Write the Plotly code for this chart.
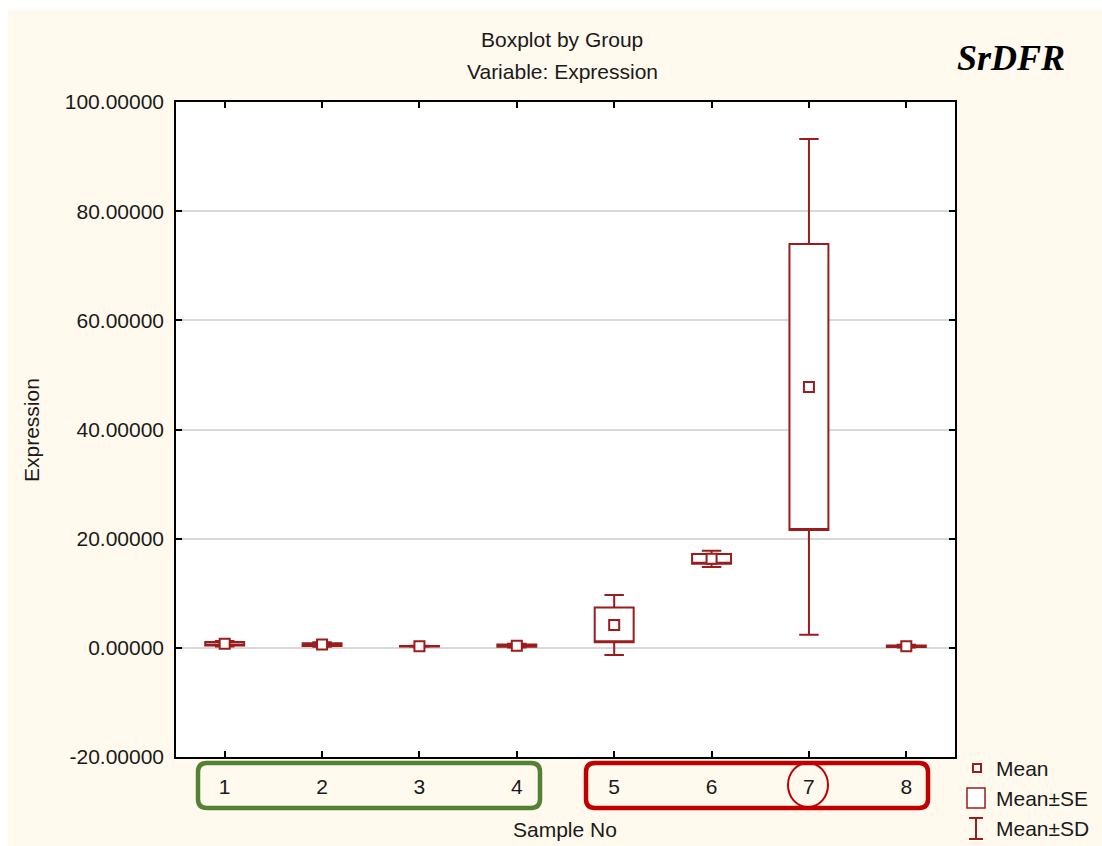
import plotly.graph_objects as go

# Expression per sample: mean, standard error and standard deviation
samples = [1, 2, 3, 4, 5, 6, 7, 8]
mean_vals = [0.75, 0.6, 0.3, 0.4, 4.2, 16.3, 47.8, 0.3]
se_vals = [0.3, 0.25, 0.05, 0.2, 3.2, 0.9, 26.2, 0.15]
sd_vals = [0.5, 0.4, 0.1, 0.35, 5.5, 1.5, 45.4, 0.25]

y_tick_vals = [-20, 0, 20, 40, 60, 80, 100]
y_tick_text = ["-20.00000", "0.00000", "20.00000", "40.00000",
               "60.00000", "80.00000", "100.00000"]
x_tick_text = ["1", "2", "3", "4", "5", "6", "7", "8"]

W, H = 1102, 846
PL, PR, PT, PB = 176, 955, 102, 757  # plot area in pixels

DARK_RED = "#9B1C1C"
CREAM = "#FFF9EE"
FONT = "Liberation Sans, Arial, sans-serif"


def px(xp):
    return (xp - PL) / (PR - PL)


def py(yp):
    return (PB - yp) / (PB - PT)


def rounded_rect(x0, y0, x1, y1, r):
    pts = [
        f"M {px(x0 + r)},{py(y0)}",
        f"L {px(x1 - r)},{py(y0)}",
        f"Q {px(x1)},{py(y0)} {px(x1)},{py(y0 + r)}",
        f"L {px(x1)},{py(y1 - r)}",
        f"Q {px(x1)},{py(y1)} {px(x1 - r)},{py(y1)}",
        f"L {px(x0 + r)},{py(y1)}",
        f"Q {px(x0)},{py(y1)} {px(x0)},{py(y1 - r)}",
        f"L {px(x0)},{py(y0 + r)}",
        f"Q {px(x0)},{py(y0)} {px(x0 + r)},{py(y0)}",
        "Z",
    ]
    return " ".join(pts)


q1 = [m - s for m, s in zip(mean_vals, se_vals)]
q3 = [m + s for m, s in zip(mean_vals, se_vals)]
lo = [m - s for m, s in zip(mean_vals, sd_vals)]
hi = [m + s for m, s in zip(mean_vals, sd_vals)]

fig = go.Figure()

# Mean±SE box with Mean±SD whiskers
fig.add_trace(go.Box(
    x=samples, q1=q1, median=q1, q3=q3, lowerfence=lo, upperfence=hi,
    width=0.4, whiskerwidth=0.5, boxpoints=False,
    fillcolor="white", line=dict(color=DARK_RED, width=2),
    showlegend=False, hoverinfo="skip",
))

# Mean markers
fig.add_trace(go.Scatter(
    x=samples, y=mean_vals, mode="markers",
    marker=dict(symbol="square", size=10, color="white",
                line=dict(color=DARK_RED, width=2)),
    showlegend=False, hoverinfo="skip",
))

shapes = []
# white strips at the top and left edge of the page
shapes.append(dict(type="rect", xref="paper", yref="paper",
                   x0=px(0), x1=px(W), y0=py(10), y1=py(0),
                   fillcolor="white", line=dict(width=0), layer="below"))
shapes.append(dict(type="rect", xref="paper", yref="paper",
                   x0=px(0), x1=px(8), y0=py(H), y1=py(0),
                   fillcolor="white", line=dict(width=0), layer="below"))

# group frames around the sample labels
shapes.append(dict(type="path", xref="paper", yref="paper",
                   path=rounded_rect(198, 763, 540, 808, 9),
                   line=dict(color="#548235", width=4.5)))
shapes.append(dict(type="path", xref="paper", yref="paper",
                   path=rounded_rect(586, 763, 928, 808, 9),
                   line=dict(color="#C00000", width=4.5)))
shapes.append(dict(type="circle", xref="paper", yref="paper",
                   x0=px(788), x1=px(828), y0=py(807), y1=py(763),
                   line=dict(color="#C00000", width=2)))

# legend glyphs
shapes.append(dict(type="rect", xref="paper", yref="paper",
                   x0=px(973), x1=px(981), y0=py(772), y1=py(764),
                   line=dict(color=DARK_RED, width=2), fillcolor="white"))
shapes.append(dict(type="rect", xref="paper", yref="paper",
                   x0=px(967), x1=px(985), y0=py(808), y1=py(788),
                   line=dict(color=DARK_RED, width=1.5), fillcolor="white"))
shapes.append(dict(type="line", xref="paper", yref="paper",
                   x0=px(976), x1=px(976), y0=py(839), y1=py(818),
                   line=dict(color=DARK_RED, width=2)))
shapes.append(dict(type="line", xref="paper", yref="paper",
                   x0=px(969), x1=px(983), y0=py(818), y1=py(818),
                   line=dict(color=DARK_RED, width=2)))
shapes.append(dict(type="line", xref="paper", yref="paper",
                   x0=px(969), x1=px(983), y0=py(839), y1=py(839),
                   line=dict(color=DARK_RED, width=2)))

font = dict(family=FONT, size=21, color="#1a1a1a")
annotations = [
    dict(text="Boxplot by Group", x=px(562), y=py(40), xref="paper", yref="paper",
         showarrow=False, font=font, xanchor="center", yanchor="middle"),
    dict(text="Variable: Expression", x=px(562), y=py(72), xref="paper", yref="paper",
         showarrow=False, font=font, xanchor="center", yanchor="middle"),
    dict(text="<b><i>SrDFR</i></b>", x=px(1011), y=py(58), xref="paper", yref="paper",
         showarrow=False, xanchor="center", yanchor="middle",
         font=dict(family="Liberation Serif, Times New Roman, serif", size=36, color="black")),
    dict(text="Expression", x=px(31), y=py(430), xref="paper", yref="paper",
         showarrow=False, textangle=-90, font=font, xanchor="center", yanchor="middle"),
    dict(text="Sample No", x=px(565), y=py(829), xref="paper", yref="paper",
         showarrow=False, font=font, xanchor="center", yanchor="middle"),
    dict(text="Mean", x=px(994), y=py(768), xref="paper", yref="paper",
         showarrow=False, font=font, xanchor="left", yanchor="middle"),
    dict(text="Mean±SE", x=px(994), y=py(798), xref="paper", yref="paper",
         showarrow=False, font=font, xanchor="left", yanchor="middle"),
    dict(text="Mean±SD", x=px(994), y=py(828), xref="paper", yref="paper",
         showarrow=False, font=font, xanchor="left", yanchor="middle"),
]

fig.update_layout(
    width=W, height=H,
    margin=dict(l=PL, r=W - PR, t=PT, b=H - PB, pad=0),
    paper_bgcolor=CREAM, plot_bgcolor="white",
    font=font,
    shapes=shapes, annotations=annotations,
    xaxis=dict(range=[0.5, 8.5], tickvals=samples, ticktext=x_tick_text,
               ticks="inside", ticklen=6, tickcolor="black", tickwidth=1.5,
               showline=True, linecolor="black", linewidth=1.5, mirror="ticks",
               showgrid=False, zeroline=False, ticklabelstandoff=10,
               tickfont=font),
    yaxis=dict(range=[-20, 100], tickvals=y_tick_vals, ticktext=y_tick_text,
               ticks="inside", ticklen=6, tickcolor="black", tickwidth=1.5,
               showline=True, linecolor="black", linewidth=1.5, mirror="ticks",
               showgrid=True, gridcolor="#d9d9d9", gridwidth=1.5,
               zeroline=False, ticklabelstandoff=6, tickfont=font),
)

fig.write_html("out.html")
